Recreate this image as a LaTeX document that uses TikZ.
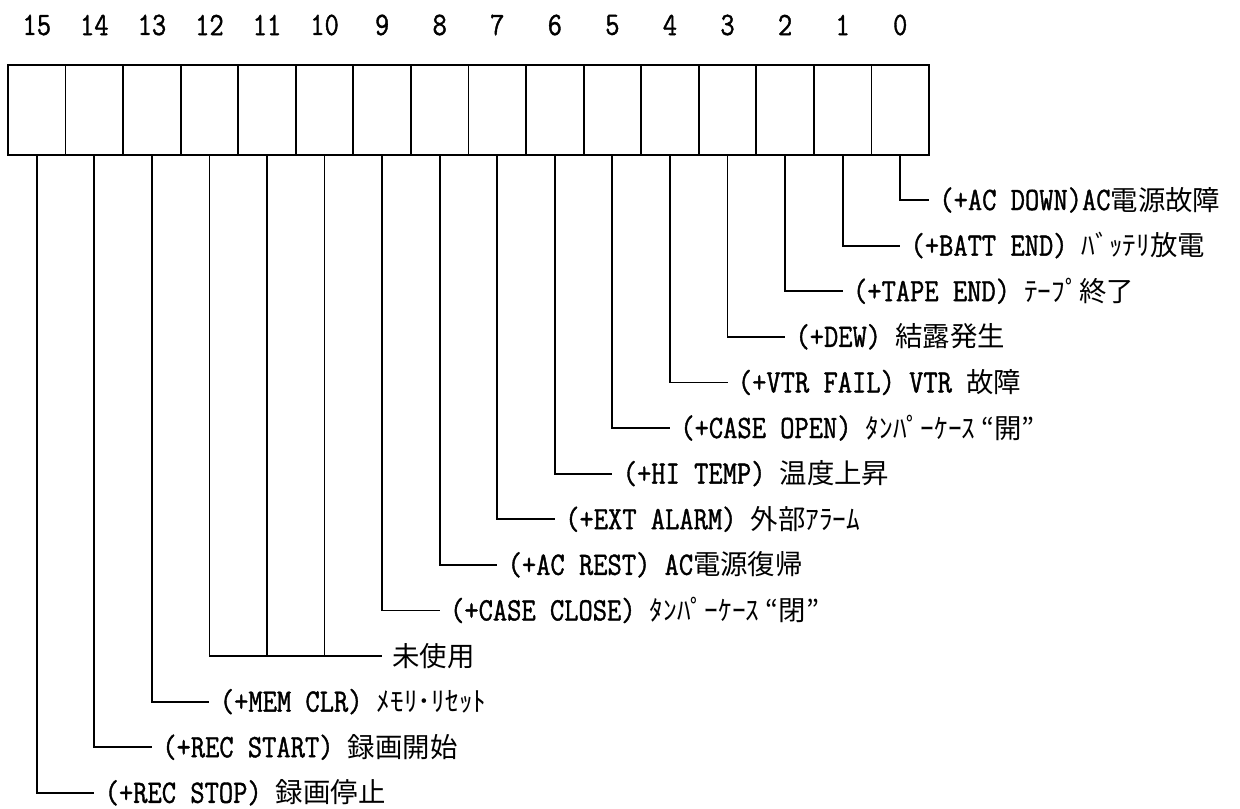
\documentclass[tikz,border=0pt]{standalone}
\usepackage{fontspec}
\newfontfamily\latfam[FakeStretch=0.85,FakeBold=1.2]{Latin Modern Mono}
\newfontfamily\jpfam{Noto Sans CJK JP}
\newcommand\lt[1]{{\latfam\fontsize{16.3pt}{16.3pt}\selectfont #1}}
\newcommand\jp[1]{{\jpfam\fontsize{13.7pt}{13.7pt}\selectfont #1}}
\tikzset{
  cell/.style={draw, line width=0.9pt, minimum width=28.78pt, minimum height=45pt, inner sep=0pt},
  num/.style={inner sep=0pt, font=\latfam\fontsize{16.3pt}{16.3pt}\selectfont},
  lbl/.style={anchor=west, inner xsep=5pt, inner ysep=0pt, text height=12pt, text depth=2pt},
  wire/.style={line width=0.9pt}
}
\begin{document}
\begin{tikzpicture}[x=0.5pt,y=-0.5pt]
\useasboundingbox (0,0) rectangle (1240,808);
\foreach \i in {0,...,15} {
  \pgfmathsetmacro\cx{36.78+57.56*(15-\i)}
  \node[cell] (b\i) at (\cx,110) {};
  \node[num] (n\i) at (\cx,25) {\i};
}
\node[lbl] (t0) at (928.96,200) {\lt{(+AC DOWN)AC}\jp{電源故障}};
\node[lbl] (t1) at (900.18,245.6) {\lt{(+BATT END) }\jp{ﾊﾞｯﾃﾘ放電}};
\node[lbl] (t2) at (842.62,291.2) {\lt{(+TAPE END) }\jp{ﾃｰﾌﾟ終了}};
\node[lbl] (t3) at (785.06,336.8) {\lt{(+DEW) }\jp{結露発生}};
\node[lbl] (t4) at (727.50,382.4) {\lt{(+VTR FAIL) VTR }\jp{故障}};
\node[lbl] (t5) at (669.94,428) {\lt{(+CASE OPEN) }\jp{ﾀﾝﾊﾟｰｹｰｽ “開”}};
\node[lbl] (t6) at (612.38,473.6) {\lt{(+HI TEMP) }\jp{温度上昇}};
\node[lbl] (t7) at (554.82,519.2) {\lt{(+EXT ALARM) }\jp{外部ｱﾗｰﾑ}};
\node[lbl] (t8) at (497.26,564.8) {\lt{(+AC REST) AC}\jp{電源復帰}};
\node[lbl] (t9) at (439.70,610.4) {\lt{(+CASE CLOSE) }\jp{ﾀﾝﾊﾟｰｹｰｽ “閉”}};
\node[lbl] (tu) at (382.14,656) {\jp{未使用}};
\node[lbl] (t13) at (209.46,701.6) {\lt{(+MEM CLR) }\jp{ﾒﾓﾘ･ﾘｾｯﾄ}};
\node[lbl] (t14) at (151.90,747.2) {\lt{(+REC START) }\jp{録画開始}};
\node[lbl] (t15) at (94.34,792.8) {\lt{(+REC STOP) }\jp{録画停止}};
\foreach \i in {0,...,9,13,14,15} {
  \draw[wire] (b\i.south) |- (t\i.west);
}
\draw[wire] (b12.south) |- (tu.west);
\draw[wire] (b11.south) -- (b11.south |- tu.west);
\draw[wire] (b10.south) -- (b10.south |- tu.west);
\end{tikzpicture}
\end{document}
